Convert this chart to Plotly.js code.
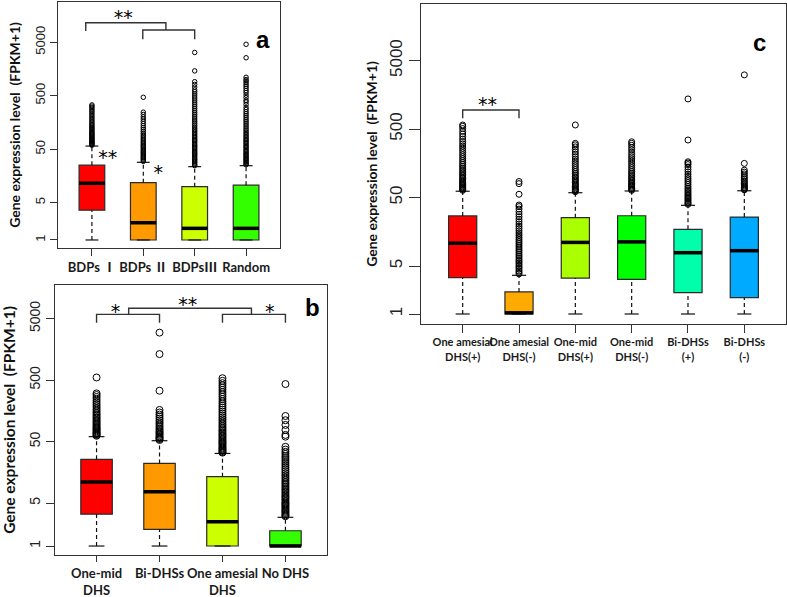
<!DOCTYPE html>
<html><head><meta charset="utf-8">
<script src="https://cdn.plot.ly/plotly-3.0.1.min.js"></script>
<style>html,body{margin:0;padding:0;background:#fff}#chart{width:787px;height:597px}</style>
</head><body><div id="chart"></div>
<script>
// ---------- Panel a ----------
const catsA = ["BDPs \u2160", "BDPs \u2161", "BDPs\u2162", "Random"];
const colorsA = ["#FF0000", "#FF9900", "#CCFF00", "#33FF00"];
const q1A  = [3.6, 1, 1, 1];
const medA = [11.5, 2.1, 1.65, 1.65];
const q3A  = [25, 11.8, 9.9, 10.6];
const loA  = [1, 1, 1, 1];
const hiA  = [57, 28.3, 23.5, 24.5];
const outA = [
  [59, 61, 63, 65, 67, 70, 72, 75, 78, 81, 84, 88, 92, 96, 100, 105, 110, 116, 122, 128, 135, 143, 152, 162, 173, 185, 198, 212, 228, 245, 262, 280, 300, 318, 335],
  [29.5, 31, 32.5, 34, 35.5, 37, 39, 41, 43, 45, 47.5, 50, 53, 56, 59, 62, 66, 70, 75, 80, 86, 92, 99, 107, 116, 126, 137, 150, 165, 182, 200, 222, 245, 465],
  [24.5, 25.5, 27, 28.5, 30, 31.5, 33, 35, 37, 39, 41, 43, 45.5, 48, 51, 54, 57, 60, 64, 68, 72, 76, 81, 86, 92, 98, 105, 112, 120, 129, 139, 150, 162, 175, 190, 206, 224, 244, 266, 290, 316, 345, 377, 412, 450, 492, 540, 590, 640, 720, 810, 910, 1450, 3200],
  [25.5, 26.5, 28, 29.5, 31, 32.5, 34, 36, 38, 40, 42, 44.5, 47, 50, 53, 56, 59, 63, 67, 71, 75, 80, 85, 91, 97, 104, 112, 120, 130, 141, 153, 166, 180, 195, 212, 230, 250, 275, 300, 340, 380, 410, 460, 510, 570, 620, 680, 740, 800, 870, 940, 1000, 1100, 2550, 4550]
];
// ---------- Panel b ----------
const catsB = ["One-mid<br>DHS", "Bi-DHSs", "One amesial<br>DHS", "No DHS"];
const colorsB = ["#FF0000", "#FF9900", "#CCFF00", "#33FF00"];
const q1B  = [3.3, 1.87, 1, 1];
const medB = [11, 7.6, 2.48, 1.0];
const q3B  = [25.7, 22, 13.4, 1.77];
const loB  = [1, 1, 1, 1];
const hiB  = [60, 51.6, 32, 2.93];
const outB = [
  [62, 64, 66, 68, 70, 73, 76, 79, 82, 85, 89, 93, 97, 102, 107, 112, 118, 124, 131, 138, 146, 155, 165, 176, 188, 200, 215, 230, 248, 265, 285, 303, 550],
  [53, 55, 57, 59, 61, 64, 67, 70, 73, 77, 81, 86, 91, 97, 103, 110, 118, 127, 137, 148, 163, 335, 1320, 2950],
  [33, 34, 35.5, 37, 38.5, 40, 42, 44, 46, 48, 50, 52.5, 55, 58, 61, 64, 67, 71, 75, 79, 84, 89, 95, 101, 108, 115, 123, 132, 142, 153, 165, 178, 192, 208, 226, 246, 268, 292, 318, 346, 377, 410, 445, 485, 535],
  [3.05, 3.15, 3.3, 3.45, 3.6, 3.75, 3.9, 4.1, 4.3, 4.5, 4.7, 4.9, 5.1, 5.4, 5.7, 6.0, 6.3, 6.6, 7.0, 7.4, 7.8, 8.2, 8.7, 9.2, 9.8, 10.4, 11, 11.7, 12.5, 13.3, 14.2, 15.2, 16.3, 17.5, 18.8, 20.2, 21.7, 23.3, 25, 27, 29, 31.5, 34, 37, 41, 60, 64, 77, 93, 111, 130, 430]
];
// ---------- Panel c ----------
const catsC = ["One amesial<br>DHS(+)", "One amesial<br>DHS(-)", "One-mid<br>DHS(+)", "One-mid<br>DHS(-)", "Bi-DHSs<br>(+)", "Bi-DHSs<br>(-)"];
const colorsC = ["#FF0000", "#FFAA00", "#AAFF00", "#00FF00", "#00FFAA", "#00AAFF"];
const q1C  = [3.4, 1, 3.35, 3.2, 2.05, 1.73];
const medC = [10.8, 1.04, 11.1, 11.3, 7.85, 8.4];
const q3C  = [27, 2.1, 25.5, 27.2, 17.2, 26];
const loC  = [1, 1, 1, 1, 1, 1];
const hiC  = [62, 3.67, 59, 62.5, 38.6, 63];
const outC = [
  [64, 66, 68, 70, 72, 75, 78, 81, 84, 87, 91, 95, 99, 104, 109, 115, 121, 128, 135, 143, 152, 162, 173, 185, 198, 212, 228, 245, 263, 283, 305, 330, 358, 390, 425, 465, 510, 550, 575],
  [3.85, 4.05, 4.25, 4.5, 4.75, 5.0, 5.3, 5.6, 5.9, 6.2, 6.6, 7.0, 7.4, 7.9, 8.4, 8.9, 9.5, 10.1, 10.8, 11.5, 12.3, 13.2, 14.2, 15.2, 16.4, 17.7, 19.1, 20.6, 22.3, 24.2, 26.3, 28.6, 31.1, 34, 37, 39, 56, 80, 86],
  [61, 63, 65, 67, 70, 73, 76, 79, 83, 87, 91, 96, 101, 107, 113, 120, 128, 137, 147, 158, 170, 183, 198, 215, 233, 253, 275, 295, 310, 575],
  [64, 66, 68, 71, 74, 77, 80, 84, 88, 92, 97, 102, 108, 114, 121, 129, 138, 148, 159, 171, 184, 198, 213, 230, 250, 270, 290, 310, 327],
  [40, 41.5, 43, 45, 47, 49, 51, 53.5, 56, 59, 62, 65, 69, 73, 78, 83, 89, 95, 102, 110, 119, 129, 140, 152, 160, 167, 347, 1380],
  [65, 67, 69, 71, 74, 77, 80, 84, 88, 93, 98, 104, 111, 118, 126, 158, 3100]
];
const yTickVals = [1, 5, 50, 500, 5000];
const yTickText = ["1", "5", "50", "500", "5000"];
const yTitle = "Gene expression level\u00a0 (FPKM+1)";

// significance brackets: [x-path, y-path]
const brA = [
  {x: [0.88, 0.88, 2.44, 2.44], y: [8060, 11500, 11500, 8400]},
  {x: [1.99, 1.99, 3.0, 3.0], y: [5640, 8400, 8400, 5640]}
];
const starsA = {x: [1.61, 1.31, 2.29], y: [13500, 32.7, 17.1], t: ["**", "**", "*"]};
const brB = [
  {x: [1, 1, 2, 2], y: [4270, 5850, 5850, 4270]},
  {x: [1.51, 1.51, 3.46, 3.46], y: [5850, 7330, 7330, 5850]},
  {x: [3, 3, 4, 4], y: [4270, 5850, 5850, 4270]}
];
const starsB = {x: [1.30, 2.45, 3.75], y: [6150, 7840, 6100], t: ["*", "**", "*"]};
const brC = [{x: [1, 1, 2, 2], y: [719, 951, 951, 719]}];
const starsC = {x: [1.44], y: [1087], t: ["**"]};

const traces = [];
const EDGE = "#2a2a2a";
const LBL = "Lato, 'Noto Sans CJK SC', sans-serif";

function panel(xa, ya, colors, q1, med, q3, lo, hi, outs, msize, brs, stars) {
  const n = q1.length;
  const wx = [], wy = [], cx = [], cy = [], mx = [], my = [], ox = [], oy = [];
  for (let i = 0; i < n; i++) {
    const x = i + 1;
    wx.push(x, x, null, x, x, null); wy.push(q3[i], hi[i], null, lo[i], q1[i], null);
    cx.push(x - 0.125, x + 0.125, null, x - 0.125, x + 0.125, null);
    cy.push(hi[i], hi[i], null, lo[i], lo[i], null);
    mx.push(x - 0.25, x + 0.25, null); my.push(med[i], med[i], null);
    outs[i].forEach(v => { ox.push(x); oy.push(v); });
  }
  traces.push({type: "scatter", mode: "lines", x: wx, y: wy, xaxis: xa, yaxis: ya,
    line: {color: "#111", width: 1.2, dash: "4px,3px"}, hoverinfo: "skip", showlegend: false});
  traces.push({type: "scatter", mode: "lines", x: cx, y: cy, xaxis: xa, yaxis: ya,
    line: {color: "#111", width: 1.2}, hoverinfo: "skip", showlegend: false});
  for (let i = 0; i < n; i++) {
    traces.push({type: "box", x: [i + 1], q1: [q1[i]], median: [med[i]], q3: [q3[i]],
      lowerfence: [q1[i]], upperfence: [q3[i]], width: 0.5, boxpoints: false,
      fillcolor: colors[i], line: {color: EDGE, width: 1.2}, xaxis: xa, yaxis: ya, showlegend: false});
  }
  traces.push({type: "scatter", mode: "lines", x: mx, y: my, xaxis: xa, yaxis: ya,
    line: {color: "#000", width: 3.5}, hoverinfo: "skip", showlegend: false});
  traces.push({type: "scatter", mode: "markers", x: ox, y: oy, xaxis: xa, yaxis: ya,
    marker: {symbol: "circle-open", size: msize, color: "#000", line: {width: 1, color: "#000"}},
    showlegend: false});
  brs.forEach(b => traces.push({type: "scatter", mode: "lines", x: b.x, y: b.y, xaxis: xa, yaxis: ya,
    line: {color: "#333", width: 1.4}, hoverinfo: "skip", showlegend: false}));
  traces.push({type: "scatter", mode: "text", x: stars.x, y: stars.y, text: stars.t, xaxis: xa, yaxis: ya,
    textposition: "middle center", textfont: {family: "DejaVu Sans", size: 19, color: "#000000"},
    hoverinfo: "skip", showlegend: false});
}
panel("x", "y", colorsA, q1A, medA, q3A, loA, hiA, outA, 4.5, brA, starsA);
panel("x2", "y2", colorsB, q1B, medB, q3B, loB, hiB, outB, 7, brB, starsB);
panel("x3", "y3", colorsC, q1C, medC, q3C, loC, hiC, outC, 6, brC, starsC);

const W = 787, H = 597;
function xAxis(l, r, anchor, n, cats, fsize, tlen) {
  return {domain: [l / W, r / W], anchor: anchor, range: [0.5 - 0.04 * n, n + 0.5 + 0.04 * n],
    tickvals: cats.map((c, i) => i + 1), ticktext: cats, tickangle: 0, ticks: "outside", ticklen: tlen, tickcolor: "#333",
    showline: true, mirror: true, linecolor: "#333", linewidth: 1.2, showgrid: false, zeroline: false,
    tickfont: {family: LBL, size: fsize, color: "#1a1a1a", weight: 700}};
}
function yAxis(t, b, anchor, r0, r1, fsize, tlen, tsize, standoff) {
  return {domain: [1 - b / H, 1 - t / H], anchor: anchor, type: "log", range: [r0, r1],
    tickvals: yTickVals, ticktext: yTickText, tickangle: -90, ticks: "outside", ticklen: tlen, tickcolor: "#333",
    showline: true, mirror: true, linecolor: "#333", linewidth: 1.2, showgrid: false, zeroline: false,
    tickfont: {family: "Liberation Sans", size: fsize, color: "#222"},
    title: {text: yTitle, standoff: standoff, font: {family: LBL, size: tsize, color: "#111", weight: 700}}};
}
const layout = {
  width: W, height: H, margin: {l: 0, r: 0, t: 0, b: 0}, paper_bgcolor: "#fff", plot_bgcolor: "#fff",
  showlegend: false, hovermode: "closest",
  xaxis: xAxis(58, 280, "y", 4, catsA, 13, 7),
  yaxis: yAxis(2, 248, "x", -0.15, 4.449, 13, 7, 14, 8),
  xaxis2: xAxis(55, 327, "y2", 4, catsB, 13, 6),
  yaxis2: yAxis(285, 555, "x2", -0.146, 4.244, 14, 8, 15.5, 8),
  xaxis3: xAxis(421, 786, "y3", 6, catsC, 11, 8),
  yaxis3: yAxis(4, 324, "x3", -0.146, 4.526, 17, 11, 14, 6),
  annotations: [
    {text: "a", x: 263 / W, y: 1 - 24 / H, xref: "paper", yref: "paper", showarrow: false,
     font: {family: "Liberation Sans", size: 24, color: "#000", weight: 700}},
    {text: "b", x: 312 / W, y: 1 - 307 / H, xref: "paper", yref: "paper", showarrow: false,
     font: {family: "Liberation Sans", size: 24, color: "#000", weight: 700}},
    {text: "c", x: 768 / W, y: 1 - 27 / H, xref: "paper", yref: "paper", showarrow: false,
     font: {family: "Liberation Sans", size: 24, color: "#000", weight: 700}}
  ]
};
Plotly.newPlot("chart", traces, layout, {displayModeBar: false, staticPlot: true});
</script></body></html>
